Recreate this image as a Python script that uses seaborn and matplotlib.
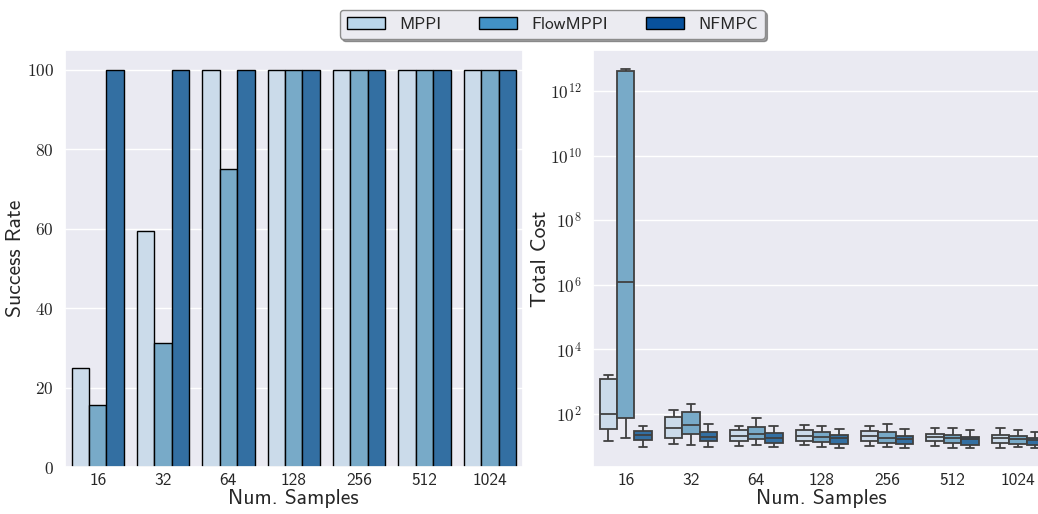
import numpy as np
import pandas as pd
import matplotlib
matplotlib.use("Agg")
import matplotlib.pyplot as plt
from matplotlib.patches import Patch
from matplotlib.ticker import FuncFormatter, LogLocator, NullLocator
import seaborn as sns

# ---- data -------------------------------------------------------------
samples = ["16", "32", "64", "128", "256", "512", "1024"]
methods = ["MPPI", "FlowMPPI", "NFMPC"]

success_mppi = [25.0, 59.375, 100, 100, 100, 100, 100]
success_flow = [15.625, 31.25, 75.0, 100, 100, 100, 100]
success_nfmpc = [100, 100, 100, 100, 100, 100, 100]

# total cost per run (five runs per setting: min, q1, median, q3, max)
cost_mppi = [
    [14.1, 35.0, 100.0, 1216.0, 1660.0],
    [11.4, 18.0, 35.8, 78.5, 136.0],
    [9.9, 14.1, 20.8, 30.9, 43.4],
    [11.2, 14.5, 21.2, 31.7, 45.3],
    [9.9, 14.9, 21.2, 29.5, 43.4],
    [10.1, 14.2, 18.8, 23.3, 35.8],
    [8.8, 12.2, 17.9, 21.7, 35.8],
]
cost_flow = [
    [18.4, 75.2, 1.20e6, 4.17e12, 4.79e12],
    [10.6, 23.3, 44.4, 112.0, 200.0],
    [10.6, 17.1, 24.5, 38.5, 73.1],
    [9.4, 13.8, 19.8, 27.5, 41.3],
    [9.2, 12.9, 18.4, 27.5, 48.6],
    [9.0, 12.9, 17.5, 22.2, 35.8],
    [9.2, 11.7, 17.1, 20.7, 31.7],
]
cost_nfmpc = [
    [9.7, 15.6, 21.7, 29.7, 42.5],
    [9.7, 14.6, 19.4, 27.7, 47.6],
    [9.4, 12.5, 17.9, 25.1, 41.3],
    [8.8, 11.7, 17.5, 22.2, 34.0],
    [8.8, 11.7, 16.7, 20.2, 34.0],
    [8.8, 11.2, 16.7, 18.8, 31.7],
    [9.0, 11.2, 16.0, 17.9, 26.9],
]

legend_colors = ["#bad6eb", "#4292c6", "#08519c"]

# ---- tidy tables -----------------------------------------------------
success_df = pd.DataFrame({
    "samples": samples * 3,
    "method": np.repeat(methods, len(samples)),
    "success": success_mppi + success_flow + success_nfmpc,
})

rows = []
for method, runs in zip(methods, [cost_mppi, cost_flow, cost_nfmpc]):
    for s, vals in zip(samples, runs):
        for v in vals:
            rows.append((s, method, v))
cost_df = pd.DataFrame(rows, columns=["samples", "method", "cost"])

# ---- style -----------------------------------------------------------
sns.set_theme(style="darkgrid")
plt.rcParams["font.family"] = ["cmss10", "DejaVu Sans"]
plt.rcParams["mathtext.fontset"] = "cm"
plt.rcParams["axes.unicode_minus"] = False

fig = plt.figure(figsize=(10.38, 5.14), dpi=100)
ax1 = fig.add_axes([0.0626, 0.0914, 0.4408, 0.8113])
ax2 = fig.add_axes([0.5713, 0.0914, 0.4408, 0.8113])

# success rate bars
sns.barplot(data=success_df, x="samples", y="success", hue="method",
            order=samples, hue_order=methods, palette="Blues",
            edgecolor="black", linewidth=1.0, ax=ax1, legend=False)
ax1.set_xlabel("Num. Samples", fontsize=15.5)
ax1.set_ylabel("Success Rate", fontsize=15.5)
ax1.yaxis.set_major_formatter(FuncFormatter(lambda v, p: f"${v:.0f}$"))

# total cost boxes on a log axis
sns.boxplot(data=cost_df, x="samples", y="cost", hue="method",
            order=samples, hue_order=methods, palette="Blues",
            whis=(0, 100), showfliers=False, log_scale=True,
            linecolor=".25", linewidth=1.3, ax=ax2, legend=False)
ax2.set_xlabel("Num. Samples", fontsize=15.5)
ax2.set_ylabel("Total Cost", fontsize=15.5)
ax2.yaxis.set_major_locator(LogLocator(base=100.0))
ax2.yaxis.set_minor_locator(NullLocator())
ax2.yaxis.set_major_formatter(
    FuncFormatter(lambda v, p: rf"$10^{{{int(round(np.log10(v)))}}}$"))

for ax in (ax1, ax2):
    ax.tick_params(axis="y", labelsize=12.5, pad=2)
    ax.tick_params(axis="x", labelsize=12.5, pad=-2)
    ax.grid(axis="x", visible=False)
    ax.xaxis.set_label_coords(0.5, -0.052)

ax1.yaxis.set_label_coords(-0.087, 0.5)
ax2.yaxis.set_label_coords(-0.094, 0.5)

handles = [Patch(facecolor=c, edgecolor="black", linewidth=1.0)
           for c in legend_colors]
leg = fig.legend(handles, methods, loc="upper center",
                 bbox_to_anchor=(0.532, 0.998), ncol=3, fontsize=12.5,
                 frameon=True, shadow=True, fancybox=True,
                 handlelength=2.2, handletextpad=0.8, columnspacing=2.2,
                 borderpad=0.4)
leg.get_frame().set_edgecolor("0.55")
leg.get_frame().set_facecolor("#ebebf1")
leg.get_frame().set_alpha(1.0)

fig.savefig("out.png", dpi=100)
